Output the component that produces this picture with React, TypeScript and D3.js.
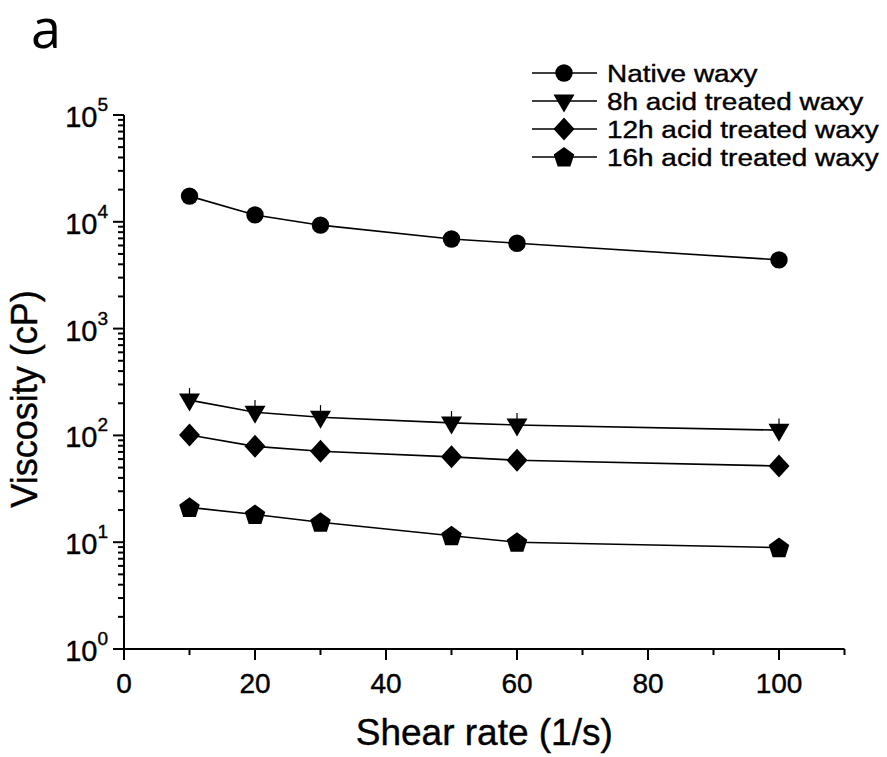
import React from "react";
import * as d3 from "d3";

const shearRates = [10, 20, 30, 50, 60, 100];
const nativeWaxy = [17400, 11600, 9300, 6900, 6300, 4400];
const acid8h = [214, 165, 148, 131, 125, 112];
const acid8hErr = [63, 49, 44, 38, 37, 32];
const acid12h = [101, 79, 71, 63, 58.5, 51.7];
const acid16h = [21.2, 18.2, 15.4, 11.5, 10.0, 8.9];
const seriesNames = ["Native waxy", "8h acid treated waxy", "12h acid treated waxy", "16h acid treated waxy"];
const xTicks = [0, 20, 40, 60, 80, 100];
const yExponents = [0, 1, 2, 3, 4, 5];

const W = 887, H = 757;
const margin = { left: 124, right: 42.5, top: 115, bottom: 108 };

const x = d3.scaleLinear().domain([0, 110]).range([margin.left, W - margin.right]);
const y = d3.scaleLog().domain([1, 1e5]).range([H - margin.bottom, margin.top]);

type Shape = "circle" | "down" | "diamond" | "pentagon";
const shapes: Shape[] = ["circle", "down", "diamond", "pentagon"];
const seriesData = [nativeWaxy, acid8h, acid12h, acid16h];

function markerPath(s: Shape): string {
  if (s === "circle") {
    const p = d3.path();
    p.arc(0, 0, 8.7, 0, Math.PI * 2);
    return p.toString();
  }
  if (s === "down") return "M-10.5,-6.5L10.5,-6.5L0,11.5Z";
  if (s === "diamond") return "M0,-11.5L10.5,0L0,11.5L-10.5,0Z";
  const r = 10.8;
  const pts = d3.range(5).map((i) => {
    const a = -Math.PI / 2 + (i * 2 * Math.PI) / 5;
    return [r * Math.cos(a), r * Math.sin(a) + 0.8];
  });
  return "M" + pts.map((p) => p.join(",")).join("L") + "Z";
}

const font = "'Liberation Sans', Arial, sans-serif";
const textStroke = { stroke: "#000", strokeWidth: 0.4 };

export default function App() {
  const line = d3
    .line<number>()
    .x((_, i) => x(shearRates[i]))
    .y((d) => y(d));

  const minorY: number[] = [];
  for (let e = 0; e < 5; e++) for (let m = 2; m <= 9; m++) minorY.push(m * Math.pow(10, e));
  const minorX = d3.range(10, 111, 20);

  const x0 = x(0), y0 = y(1);

  return (
    <svg width={W} height={H} style={{ display: "block", position: "absolute", left: 0, top: 0 }} fontFamily={font}>
      <rect width={W} height={H} fill="#fff" />
      <text x={31} y={48} fontFamily="'Open Sans', 'Noto Sans', sans-serif" fontSize={54} fill="#000">a</text>

      {/* axes */}
      <line x1={x0} x2={x0} y1={y(1e5)} y2={y0 + 1} stroke="#000" strokeWidth={2} />
      <line x1={x0 - 1} x2={x(110)} y1={y0} y2={y0} stroke="#000" strokeWidth={2} />

      {yExponents.map((e) => (
        <g key={"y" + e}>
          <line x1={x0 - 11} x2={x0} y1={y(Math.pow(10, e))} y2={y(Math.pow(10, e))} stroke="#000" strokeWidth={2} />
          <text x={x0 - 16} y={y(Math.pow(10, e)) + 12} textAnchor="end" fontSize={29} fill="#000" {...textStroke}>
            10<tspan fontSize={19} dy={-16}>{e}</tspan>
          </text>
        </g>
      ))}
      {minorY.map((v) => (
        <line key={"my" + v} x1={x0 - 6} x2={x0} y1={y(v)} y2={y(v)} stroke="#000" strokeWidth={2} />
      ))}

      {xTicks.map((t) => (
        <g key={"x" + t}>
          <line x1={x(t)} x2={x(t)} y1={y0} y2={y0 + 11} stroke="#000" strokeWidth={2} />
          <text x={x(t)} y={y0 + 44} textAnchor="middle" fontSize={28} fill="#000" {...textStroke}>{t}</text>
        </g>
      ))}
      {minorX.map((t) => (
        <line key={"mx" + t} x1={x(t)} x2={x(t)} y1={y0} y2={y0 + 6} stroke="#000" strokeWidth={2} />
      ))}

      <text x={(x(0) + x(110)) / 2} y={745} textAnchor="middle" fontSize={37} fill="#000" {...textStroke}>Shear rate (1/s)</text>
      <text transform={`translate(37, 399) rotate(-90)`} textAnchor="middle" fontSize={36} fill="#000" {...textStroke}>Viscosity (cP)</text>

      {/* series */}
      {seriesData.map((data, si) => (
        <g key={"s" + si}>
          <path d={line(data) || ""} fill="none" stroke="#000" strokeWidth={1.6} />
          {si === 1 &&
            data.map((d, i) => (
              <line key={"e" + i} x1={x(shearRates[i])} x2={x(shearRates[i])} y1={y(d)} y2={y(d + acid8hErr[i])} stroke="#000" strokeWidth={1.2} />
            ))}
          {data.map((d, i) => (
            <path key={"m" + i} d={markerPath(shapes[si])} transform={`translate(${x(shearRates[i])},${y(d)})`} fill="#000" />
          ))}
        </g>
      ))}

      {/* legend */}
      {seriesNames.map((name, i) => {
        const ly = 73 + i * 28;
        return (
          <g key={"l" + i}>
            <line x1={532} x2={597} y1={ly} y2={ly} stroke="#000" strokeWidth={1.6} />
            <path d={markerPath(shapes[i])} transform={`translate(564,${ly})`} fill="#000" />
            <text transform={`translate(607,${ly + 8.5}) scale(1.14,1)`} fontSize={24.5} fill="#000" {...textStroke}>{name}</text>
          </g>
        );
      })}
    </svg>
  );
}
